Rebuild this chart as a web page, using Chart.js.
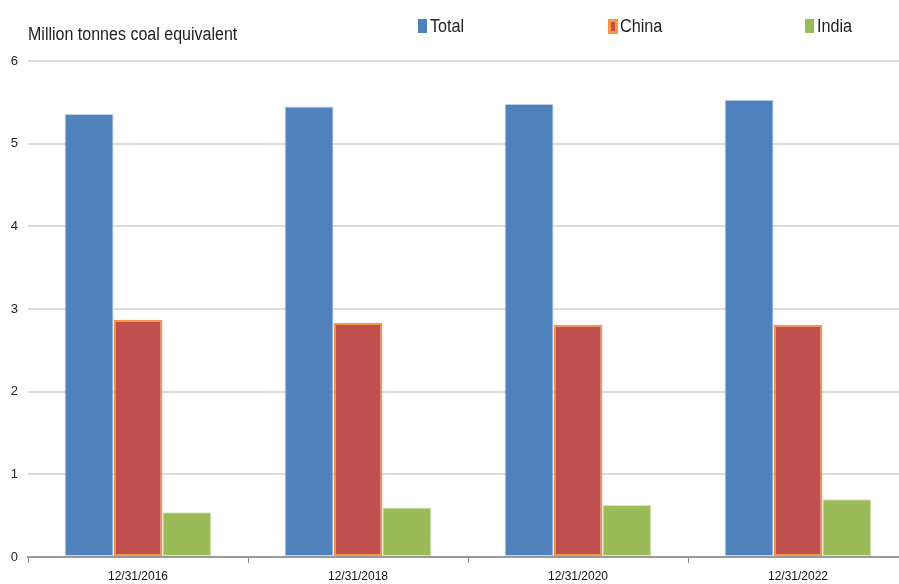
<!DOCTYPE html>
<html>
<head>
<meta charset="utf-8">
<script src="https://cdn.jsdelivr.net/npm/chart.js@4.4.0/dist/chart.umd.min.js"></script>
<style>
  html, body { margin: 0; padding: 0; background: #fff; overflow: hidden; }
  #wrap { position: relative; width: 910px; height: 584px; }
</style>
</head>
<body>
<div id="wrap"><canvas id="chart" width="910" height="584"></canvas></div>
<script>
const categories = ["12/31/2016", "12/31/2018", "12/31/2020", "12/31/2022"];
const totalValues = [5.36, 5.45, 5.48, 5.53];
const chinaValues = [2.87, 2.83, 2.81, 2.81];
const indiaValues = [0.54, 0.60, 0.63, 0.70];
const yTicks = [0, 1, 2, 3, 4, 5, 6];

const FONT = "'Liberation Sans Narrow', 'Arial Narrow', 'Liberation Sans', Arial, sans-serif";

// narrow-looking text: squeeze horizontally since no condensed font is installed
function narrowText(ctx, text, x, y, sx) {
  ctx.save();
  ctx.translate(x, y);
  ctx.scale(sx, 1);
  ctx.fillText(text, 0, 0);
  ctx.restore();
}

// title + legend drawn by hand to match the spacing of the original
const headerPlugin = {
  id: "header",
  afterDraw(chart) {
    const ctx = chart.ctx;
    ctx.save();
    ctx.fillStyle = "#222";
    ctx.font = "18px " + FONT;
    ctx.textBaseline = "middle";
    ctx.textAlign = "left";
    narrowText(ctx, "Million tonnes coal equivalent", 28, 35, 0.89);

    const xs = [418, 608, 805];
    chart.data.datasets.forEach((ds, i) => {
      const x = xs[i];
      if (ds.label === "China") {
        ctx.fillStyle = "#F79646";
        ctx.fillRect(x, 19, 10, 15);
        ctx.fillStyle = ds.backgroundColor;
        ctx.fillRect(x + 3, 22, 4, 9);
      } else {
        ctx.fillStyle = ds.backgroundColor;
        ctx.fillRect(x, 19, 9, 14);
      }
      ctx.fillStyle = "#222";
      narrowText(ctx, ds.label, x + 12, 27, 0.9);
    });
    ctx.restore();
  }
};

new Chart(document.getElementById("chart"), {
  type: "bar",
  data: {
    labels: categories,
    datasets: [
      {
        label: "Total",
        data: totalValues,
        backgroundColor: "#4F81BD",
        borderColor: "rgba(185, 205, 229, 0.9)",
        borderWidth: 1,
        borderSkipped: false
      },
      {
        label: "China",
        data: chinaValues,
        backgroundColor: "#C0504D",
        borderColor: "#F79646",
        borderWidth: 2,
        borderSkipped: false
      },
      {
        label: "India",
        data: indiaValues,
        backgroundColor: "#9BBB59",
        borderColor: "rgba(215, 228, 189, 0.9)",
        borderWidth: 1,
        borderSkipped: false
      }
    ]
  },
  options: {
    responsive: false,
    animation: false,
    layout: { padding: { top: 61, right: 2, left: 0, bottom: 0 } },
    datasets: { bar: { categoryPercentage: 0.667, barPercentage: 1.0 } },
    plugins: {
      legend: { display: false },
      title: { display: false },
      tooltip: { enabled: false }
    },
    scales: {
      x: {
        grid: {
          offset: true,
          drawOnChartArea: false,
          drawTicks: true,
          tickLength: 6,
          color: "#888",
          lineWidth: 1
        },
        border: { display: true, color: "#999", width: 2 },
        ticks: {
          color: "#111",
          font: { family: FONT, size: 12 },
          padding: 6,
          maxRotation: 0
        },
        afterFit(scale) { scale.height = 27; }
      },
      y: {
        min: 0,
        max: 6,
        afterBuildTicks(scale) { scale.ticks = yTicks.map(v => ({ value: v })); },
        grid: { color: "#dcdcdc", lineWidth: 2, drawTicks: false },
        border: { display: false },
        ticks: {
          color: "#222",
          font: { family: FONT, size: 13 },
          padding: 10
        },
        afterFit(scale) { scale.width = 28; }
      }
    }
  },
  plugins: [headerPlugin]
});
</script>
</body>
</html>
